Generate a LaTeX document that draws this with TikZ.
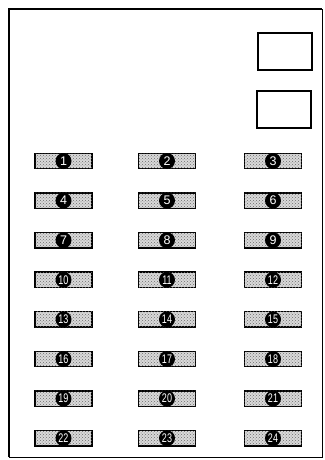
\documentclass[tikz,border=0pt]{standalone}
\usepackage{fontspec}
\setsansfont{Liberation Sans}
\usetikzlibrary{patterns}
\begin{document}
\begin{tikzpicture}[x=1pt,y=-1pt,
  btn/.style={draw=black, line width=1.4pt, minimum width=57pt, minimum height=15.5pt, inner sep=0pt,
    fill=gray!30, postaction={pattern=crosshatch dots, pattern color=gray!85!black}},
  num/.style={circle, fill=black, text=white, inner sep=0pt, minimum size=16pt,
    font=\sffamily\fontsize{12.5}{12.5}\selectfont},
  panel/.style={draw=black, line width=1.4pt, minimum width=54pt, minimum height=37pt, inner sep=0pt}]
\useasboundingbox (0,0) rectangle (324,460);
\draw[line width=1.8pt] (9,457) -- (9,9) -- (322,9);
\draw[line width=0.9pt] (9,457) -- (322,457) -- (322,9);
\node[panel] (p1) at (285,51.5) {};
\node[panel] (p2) at (284,109.5) {};
\foreach \r in {0,...,7}{
  \foreach \c/\xx in {0/63.5,1/167,2/273}{
    \pgfmathtruncatemacro\k{3*\r+\c+1}
    \pgfmathsetmacro\yy{161+39.6*\r}
    \node[btn] (b\k) at (\xx,\yy) {};
    \ifnum\k>9
      \node[num] (n\k) at (b\k) {\scalebox{0.72}[1]{\k}};
    \else
      \node[num] (n\k) at (b\k) {\k};
    \fi
  }
}
\end{tikzpicture}
\end{document}
